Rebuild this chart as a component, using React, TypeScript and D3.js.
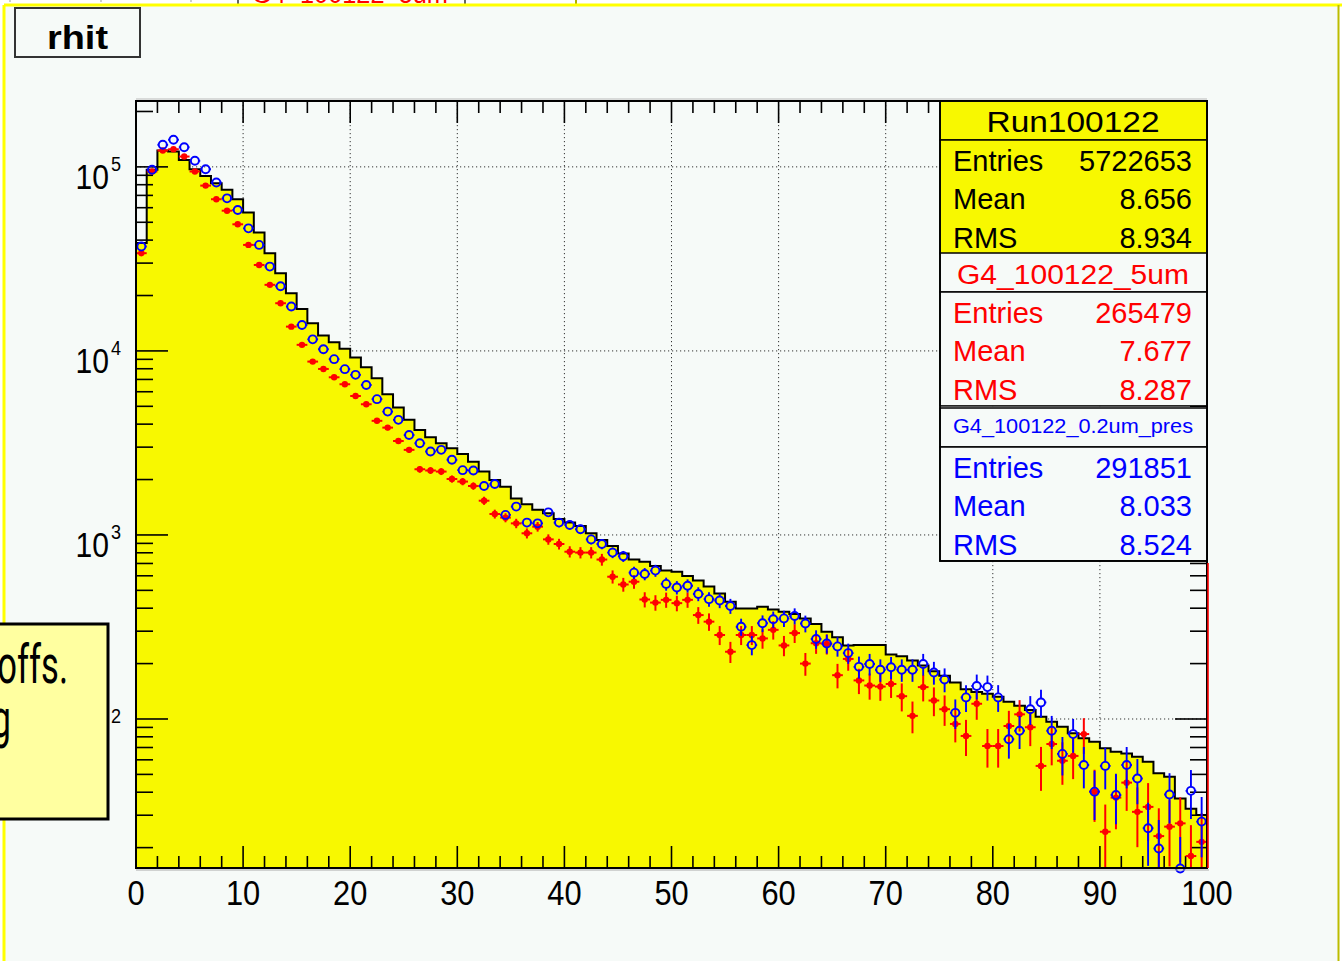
import React from "react";
import * as d3 from "d3";

// ---------- data (counts per unit bin, 0..100) ----------
const dataRun100122 = [
  38600, 96400, 122700, 121100, 109100, 97000, 89300, 81500, 75000, 66700,
  56500, 43950, 33960, 26400, 20560, 16900, 14130, 12110, 11140, 10260,
  9200, 8150, 7100, 5810, 4920, 4220, 3720, 3400, 3150, 2960,
  2750, 2500, 2210, 1990, 1830, 1580, 1470, 1370, 1310, 1220,
  1170, 1120, 1020, 940, 871, 793, 736, 716, 679, 640,
  632, 598, 565, 524, 481, 434, 399, 399, 407, 394,
  383, 372, 352, 328, 298, 278, 251, 252, 252, 252,
  224, 219, 208, 195, 182, 172, 158, 145, 140, 137,
  132, 124, 118, 112, 103, 96.6, 90.8, 83.6, 78.5, 75.3,
  69.3, 66.4, 65.0, 62.4, 58.6, 50.7, 48.5, 37.0, 32.5, 30.1,
];

const g4_5um = [
  33960, 94400, 122700, 124700, 113800, 94400, 79100, 66700, 57800, 48750,
  37670, 29310, 22860, 18160, 13550, 10790, 8750, 7980, 7190, 6590,
  5690, 5130, 4170, 3830, 3240, 2900, 2275, 2240, 2210, 2014,
  1950, 1845, 1535, 1300, 1242, 1156, 1021, 1109, 946, 893,
  811, 802, 802, 735, 593, 538, 557, 446, 429, 444,
  426, 444, 367, 338, 286, 232, 286, 286, 274, 305,
  251, 293, 200, 258, 256, 173, 212, 162, 152, 150,
  155, 133, 104, 149, 126, 113, 94.0, 80.9, 121, 71.3,
  71.3, 91.6, 106, 90.2, 55.6, 73.1, 59.3, 63.0, 82.8, 40.3,
  24.4, 37.4, 45.1, 31.3, 33.3, 23.1, 26.0, 27.1, 18.0, 21.5,
];

const g4_02um_pres = [
  36900, 96400, 131800, 140300, 127900, 107900, 97000, 82200, 67450, 58340,
  46340, 37670, 28710, 22440, 17420, 13840, 11560, 10210, 9020, 7960,
  7410, 6530, 5470, 4680, 4220, 3490, 3150, 2840, 2900, 2560,
  2250, 2240, 1845, 1890, 1285, 1426, 1167, 1156, 1327, 1167,
  1132, 1074, 946, 893, 802, 766, 624, 614, 640, 542,
  518, 530, 478, 448, 440, 411, 317, 252, 331, 348,
  352, 363, 330, 272, 257, 248, 228, 192, 199, 185,
  191, 185, 185, 199, 179, 164, 108, 131, 151, 149,
  131, 77.6, 86.3, 113, 123, 86.3, 64.6, 82.8, 56.2, 40.3,
  55.6, 38.6, 56.2, 47.5, 25.5, 19.8, 38.9, 15.4, 40.7, 27.7,
];

// error scale (weight) of the two scaled simulations: err = sqrt(k * content)
const errWeight5um = 4.0;
const errWeight02um = 3.6;

const xDomain = [0, 100];
const yDomain = [15.5, 228000];
const xTickValues = [0, 10, 20, 30, 40, 50, 60, 70, 80, 90, 100];
const yDecadeExponents = [2, 3, 4, 5];

const histTitle = "rhit";

const statsRun = { title: "Run100122", rows: [["Entries", "5722653"], ["Mean", "8.656"], ["RMS", "8.934"]] };
const stats5um = { title: "G4_100122_5um", rows: [["Entries", "265479"], ["Mean", "7.677"], ["RMS", "8.287"]] };
const stats02um = { title: "G4_100122_0.2um_pres", rows: [["Entries", "291851"], ["Mean", "8.033"], ["RMS", "8.524"]] };

const noteLines = ["offs.", "ing"];

// ---------- styles ----------
const FONT = "'Liberation Sans', Arial, Helvetica, sans-serif";
const BG = "#f6faf8";
const YELLOW = "#f8f800";

export default function App() {
  const x = d3.scaleLinear().domain(xDomain).range([136, 1207]);
  const y = d3.scaleLog().domain(yDomain).range([868, 101]);
  const [bottom, top] = y.range();
  const [left, right] = x.range();
  const half = (x(1) - x(0)) / 2;

  const pts: [number, number][] = dataRun100122.map((v, i) => [i, v] as [number, number]);
  pts.push([100, dataRun100122[dataRun100122.length - 1]]);
  const area = d3.area<[number, number]>().x((d) => x(d[0])).y0(bottom).y1((d) => y(d[1])).curve(d3.curveStepAfter);
  const line = d3.line<[number, number]>().x((d) => x(d[0])).y((d) => y(d[1])).curve(d3.curveStepAfter);
  const outline = `M${left},${bottom}L` + (line(pts) || "").slice(1) + `L${right},${bottom}`;

  const clampY = (v: number) => (v <= yDomain[0] ? bottom : Math.max(top, y(v)));

  // ticks
  const xMinor = d3.range(0, 101, 2).filter((v) => v % 10 !== 0);
  const yMinor: number[] = [];
  for (let e = 1; e <= 5; e++) for (let m = 2; m <= 9; m++) {
    const v = m * Math.pow(10, e);
    if (v > yDomain[0] && v < yDomain[1]) yMinor.push(v);
  }
  const yMajor = yDecadeExponents.map((e) => Math.pow(10, e));

  const tk = { stroke: "#000", strokeWidth: 1.6 };

  const statsBox = (s: typeof statsRun, y0: number, color: string, fill: string, titleSize: number, titleLen: number) => {
    const rowH = 38.3;
    return (
      <g>
        <rect x={940} y={y0} width={267} height={39} fill={fill} stroke="#000" strokeWidth={1.5} />
        <text x={1073} y={y0 + (titleSize > 24 ? 31 : 25)} fill={color} fontSize={titleSize} textAnchor="middle"
          textLength={titleLen} lengthAdjust="spacingAndGlyphs" fontFamily={FONT}>{s.title}</text>
        <rect x={940} y={y0 + 39} width={267} height={rowH * 3 - 1} fill={fill} stroke="#000" strokeWidth={1.5} />
        {s.rows.map((r, i) => (
          <g key={r[0]}>
            <text x={953} y={y0 + 70 + i * rowH} fill={color} fontSize={29} fontFamily={FONT}>{r[0]}</text>
            <text x={1192} y={y0 + 70 + i * rowH} fill={color} fontSize={29} fontFamily={FONT} textAnchor="end">{r[1]}</text>
          </g>
        ))}
      </g>
    );
  };

  return (
    <svg width={1342} height={961} style={{ position: "absolute", left: 0, top: 0, background: "#fff" }}>
      {/* window bits above the canvas */}
      <g>
        <text x={252} y={3} fill="#f00" fontSize={28} fontFamily={FONT} textLength={196} lengthAdjust="spacingAndGlyphs">G4_100122_5um</text>
        <line x1={238} y1={0} x2={238} y2={4} stroke="#333" strokeWidth={1.5} />
        <line x1={465} y1={0} x2={465} y2={4} stroke="#333" strokeWidth={1.5} />
        <line x1={576} y1={0} x2={576} y2={4} stroke="#b0b000" strokeWidth={2} />
        <line x1={10} y1={0} x2={10} y2={2} stroke="#999" />
        <line x1={101} y1={0} x2={101} y2={2} stroke="#999" />
        <line x1={191} y1={0} x2={191} y2={2} stroke="#999" />
      </g>
      {/* canvas */}
      <rect x={4} y={5} width={1334} height={956} fill={BG} />
      <line x1={4} y1={5} x2={1342} y2={5} stroke="#ffff00" strokeWidth={3} />
      <line x1={4} y1={5} x2={4} y2={961} stroke="#ffff00" strokeWidth={3} />
      <line x1={1338.5} y1={5} x2={1338.5} y2={961} stroke="#bcbc00" strokeWidth={2} />

      {/* grid */}
      <g stroke="#333" strokeWidth={1} strokeDasharray="1.2,2.8">
        {xTickValues.filter((v) => v > xDomain[0] && v < xDomain[1]).map((v) => (
          <line key={"gx" + v} x1={x(v)} x2={x(v)} y1={top} y2={bottom} />
        ))}
        {yMajor.map((v) => (
          <line key={"gy" + v} x1={left} x2={right} y1={y(v)} y2={y(v)} />
        ))}
      </g>

      {/* data histogram */}
      <path d={area(pts) || ""} fill={YELLOW} />
      <path d={outline} fill="none" stroke="#000" strokeWidth={2} />

      {/* ticks */}
      <g {...tk}>
        {xTickValues.map((v) => (
          <g key={"xt" + v}>
            <line x1={x(v)} x2={x(v)} y1={bottom} y2={bottom - 22} />
            <line x1={x(v)} x2={x(v)} y1={top} y2={top + 22} />
          </g>
        ))}
        {xMinor.map((v) => (
          <g key={"xm" + v}>
            <line x1={x(v)} x2={x(v)} y1={bottom} y2={bottom - 12} />
            <line x1={x(v)} x2={x(v)} y1={top} y2={top + 12} />
          </g>
        ))}
        {yMajor.map((v) => (
          <g key={"yt" + v}>
            <line x1={left} x2={left + 32} y1={y(v)} y2={y(v)} />
            <line x1={right} x2={right - 32} y1={y(v)} y2={y(v)} />
          </g>
        ))}
        {yMinor.map((v) => (
          <g key={"ym" + v}>
            <line x1={left} x2={left + 17} y1={y(v)} y2={y(v)} />
            <line x1={right} x2={right - 17} y1={y(v)} y2={y(v)} />
          </g>
        ))}
      </g>

      {/* G4 5um (red) */}
      <g stroke="#f00" strokeWidth={2}>
        {g4_5um.map((v, i) => {
          const cx = x(i + 0.5), cy = y(v), e = Math.sqrt(errWeight5um * v);
          return (
            <g key={"r" + i}>
              <line x1={cx - half} x2={cx + half} y1={cy} y2={cy} />
              <line x1={cx} x2={cx} y1={clampY(v + e)} y2={clampY(v - e)} />
              <circle cx={cx} cy={cy} r={3.2} fill="#f00" stroke="none" />
            </g>
          );
        })}
      </g>

      {/* G4 0.2um pres (blue) */}
      <g stroke="#00f" strokeWidth={1.9}>
        {g4_02um_pres.map((v, i) => {
          const cx = x(i + 0.5), cy = y(v), e = Math.sqrt(errWeight02um * v), r = 4;
          const yt = clampY(v + e), yb = clampY(v - e);
          return (
            <g key={"b" + i}>
              <line x1={cx - half} x2={cx - r} y1={cy} y2={cy} />
              <line x1={cx + r} x2={cx + half} y1={cy} y2={cy} />
              {yt < cy - r && <line x1={cx} x2={cx} y1={yt} y2={cy - r} />}
              {yb > cy + r && <line x1={cx} x2={cx} y1={cy + r} y2={yb} />}
              <circle cx={cx} cy={cy} r={r} fill="none" />
            </g>
          );
        })}
      </g>

      {/* frame */}
      <line x1={left} x2={right + 2} y1={bottom + 2} y2={bottom + 2} stroke="#aaa" strokeWidth={1} />
      <line x1={left} x2={right} y1={top - 2} y2={top - 2} stroke="#bbb" strokeWidth={1} />
      <rect x={left} y={top} width={right - left} height={bottom - top} fill="none" stroke="#000" strokeWidth={2} />
      <line x1={right + 1} x2={right + 1} y1={563} y2={bottom} stroke="#f00" strokeWidth={1.6} />

      {/* x tick labels */}
      {xTickValues.map((v) => (
        <text key={"xl" + v} transform={`translate(${x(v)},${bottom + 37}) scale(0.88,1)`} textAnchor="middle"
          fontSize={35} fontFamily={FONT} fill="#000">{v}</text>
      ))}
      {/* y tick labels */}
      {yMajor.map((v, i) => (
        <g key={"yl" + v}>
          <text transform={`translate(109,${y(v) + 22}) scale(0.86,1)`} textAnchor="end" fontSize={35} fontFamily={FONT} fill="#000">10</text>
          <text transform={`translate(111,${y(v) + 4}) scale(0.86,1)`} fontSize={21} fontFamily={FONT} fill="#000">{yDecadeExponents[i]}</text>
        </g>
      ))}

      {/* stats boxes */}
      <g>
        {statsBox(statsRun, 101, "#000", YELLOW, 29, 173)}
        {statsBox(stats5um, 253, "#f00", BG, 27, 232)}
        {statsBox(stats02um, 408, "#00f", BG, 20, 240)}
        <rect x={940} y={101} width={267} height={460} fill="none" stroke="#000" strokeWidth={1.8} />
      </g>

      {/* title */}
      <rect x={15} y={8} width={125} height={49} fill={BG} stroke="#333" strokeWidth={2} />
      <text x={77.5} y={49} textAnchor="middle" fontWeight="bold" fontSize={33} fontFamily={FONT} fill="#000"
        textLength={61} lengthAdjust="spacingAndGlyphs">{histTitle}</text>

      {/* overlapping note box */}
      <rect x={-5} y={624} width={113} height={195} fill="#ffffa0" stroke="#000" strokeWidth={3} />
      <text transform="translate(68,683) scale(0.64,1)" textAnchor="end" fontSize={54} fontFamily="Roboto, Arial, sans-serif" fill="#000">{noteLines[0]}</text>
      <text transform="translate(11,737) scale(0.64,1)" textAnchor="end" fontSize={54} fontFamily="Roboto, Arial, sans-serif" fill="#000">{noteLines[1]}</text>
    </svg>
  );
}
